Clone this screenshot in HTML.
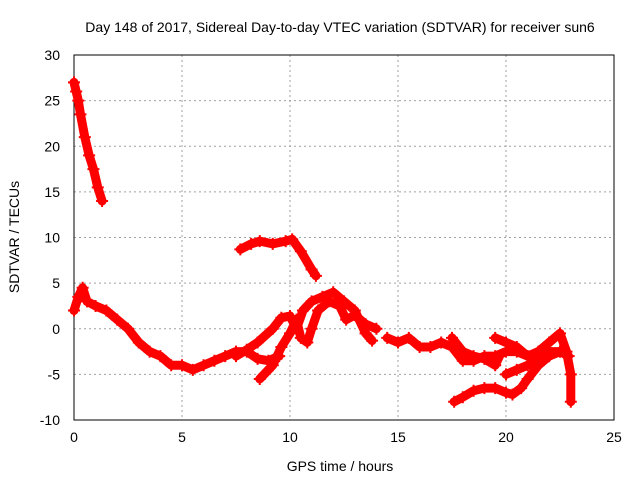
<!DOCTYPE html>
<html><head><meta charset="utf-8"><style>
body{margin:0;background:#fff}
svg{display:block;font-family:"Liberation Sans",sans-serif}
</style></head><body>
<svg id="c" width="640" height="480"></svg>
<script>
const xTicks=[0,5,10,15,20,25];
const yTicks=[-10,-5,0,5,10,15,20,25,30];
const trackAx=[0,0.1,0.2,0.3,0.5,0.7,0.9,1.1,1.3];
const trackAy=[27,26,25,23.5,21,19,17.5,15.5,14];
const trackBx=[7.7,8.2,8.6,9.2,9.8,10.1,10.5,11,11.2];
const trackBy=[8.7,9.3,9.6,9.3,9.6,9.8,8.5,6.5,5.8];
const trackCx=[0,0.2,0.4,0.6,1,1.5,2,2.5,3,3.5,4,4.5,5,5.5,6,6.5,7,7.5,8,8.5,9,9.5];
const trackCy=[2,3.5,4.5,3,2.5,2,1,0,-1.5,-2.5,-3,-4,-4,-4.5,-4,-3.5,-3,-2.5,-2.5,-3.3,-3.5,-3];
const trackDx=[7.5,8,8.5,9.2,9.6,10,10.3,10.6,11,11.5,12,12.5,13,13.5,13.8];
const trackDy=[-3,-2.3,-1.5,0,1.2,1.4,0,2,3,3.5,4,3,2,-0.5,-1.3];
const trackEx=[8.6,9.2,9.6,10,10.3,10.5,10.8,11,11.3,11.8,12.3,12.6,13,13.5,14];
const trackEy=[-5.5,-4,-2,-0.5,1,-1,-1.5,0,2,3,2.5,1,1.5,0.5,0];
const trackFx=[14.5,15,15.5,16,16.5,17,17.5,18,18.5,19,19.5,20,20.5,21,21.5,22,22.5,22.9];
const trackFy=[-1,-1.5,-1,-2,-2,-1.5,-2,-3.5,-3.5,-3,-3,-2.5,-2.5,-3,-3,-2.5,-2.5,-3];
const trackGx=[17.5,18,18.5,19,19.5,19.7];
const trackGy=[-1,-2.5,-3,-3.3,-4,-3];
const trackHx=[19.5,20,20.5,21,21.5,22,22.5,22.8,23,23];
const trackHy=[-1,-1.5,-2,-3,-2.5,-1.5,-0.5,-2.5,-5,-8];
const trackIx=[17.6,18,18.5,19,19.5,20,20.3,20.7,21,21.5,22,22.5];
const trackIy=[-8,-7.5,-6.8,-6.5,-6.5,-7,-7.2,-6.5,-5.5,-4,-3,-2.5];
const trackJx=[20,20.5,21,21.5];
const trackJy=[-5,-4.5,-4,-3.5];
const tracks=[[trackAx,trackAy],[trackBx,trackBy],[trackCx,trackCy],[trackDx,trackDy],[trackEx,trackEy],[trackFx,trackFy],[trackGx,trackGy],[trackHx,trackHy],[trackIx,trackIy],[trackJx,trackJy]];

const L=74,R=614,T=55,B=420;
const sx=v=>L+(v-0)/25*(R-L);
const sy=v=>B-(v+10)/40*(B-T);
const svg=document.getElementById('c');
const NS='http://www.w3.org/2000/svg';
function mk(t,a){const e=document.createElementNS(NS,t);for(const k in a)e.setAttribute(k,a[k]);svg.appendChild(e);return e;}

xTicks.forEach(v=>{
  const x=sx(v);
  if(v>0&&v<25){const g=mk('line',{x1:x,x2:x,y1:T,y2:B,stroke:'#a0a0a0','stroke-dasharray':'2,3'});
  
  }
  const t=mk('text',{x:x,y:B+22,'text-anchor':'middle','font-size':14,fill:'#000'});t.textContent=v;
  
  
});
yTicks.forEach(v=>{
  const y=sy(v);
  if(v>-10&&v<30){const g=mk('line',{x1:L,x2:R,y1:y,y2:y,stroke:'#a0a0a0','stroke-dasharray':'2,3'});
  
  }
  const t=mk('text',{x:L-14,y:y+5,'text-anchor':'end','font-size':14,fill:'#000'});t.textContent=v;
  
  
});
const fr=mk('rect',{x:L,y:T,width:R-L,height:B-T,fill:'none',stroke:'#000','stroke-width':1});



tracks.forEach(([xs,ys])=>{
  const pts=xs.map((x,i)=>sx(x)+','+sy(ys[i])).join(' ');
  const p=mk('polyline',{points:pts,fill:'none',stroke:'#ff0000','stroke-width':9,'stroke-linejoin':'round','stroke-linecap':'round'});
  
  
  xs.forEach((x,i)=>{
    const cx=sx(x),cy=sy(ys[i]);
    const m=mk('path',{d:`M${cx-6},${cy}h12M${cx},${cy-6}v12`,stroke:'#ff0000','stroke-width':2});
    
    
  });
});

const ti=mk('text',{x:340,y:32,'text-anchor':'middle','font-size':14,fill:'#000'});
ti.textContent='Day 148 of 2017, Sidereal Day-to-day VTEC variation (SDTVAR) for receiver sun6';


const xl=mk('text',{x:340,y:471,'text-anchor':'middle','font-size':14,fill:'#000'});
xl.textContent='GPS time / hours';


const yl=mk('text',{x:19,y:237,'text-anchor':'middle','font-size':14,fill:'#000',transform:'rotate(-90 19 237)'});
yl.textContent='SDTVAR / TECUs';


</script>
</body></html>
